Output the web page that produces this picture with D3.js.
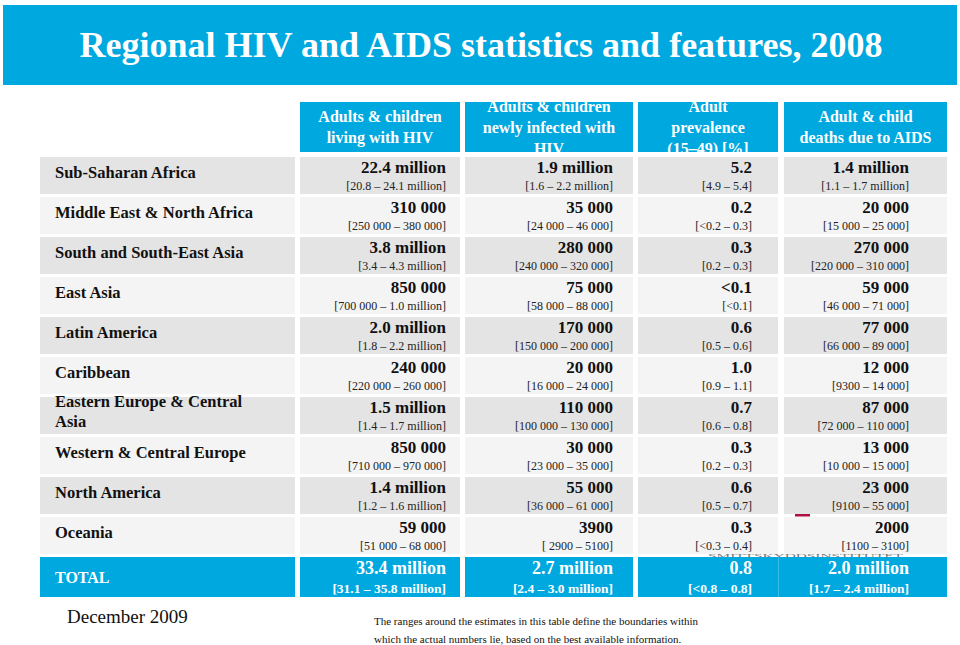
<!DOCTYPE html>
<html>
<head>
<meta charset="utf-8">
<script src="https://cdn.jsdelivr.net/npm/d3@7"></script>
<style>
html,body{margin:0;padding:0;background:#fff;}
svg{display:block;font-family:"Liberation Serif","Times New Roman",serif;}
</style>
</head>
<body>
<svg id="chart" width="960" height="645"></svg>
<script>
// ---------- DATA ----------
const title = "Regional HIV and AIDS statistics and features, 2008";
const regions = [
  "Sub-Saharan Africa",
  "Middle East & North Africa",
  "South and South-East Asia",
  "East Asia",
  "Latin America",
  "Caribbean",
  "Eastern Europe & Central\nAsia",
  "Western & Central Europe",
  "North America",
  "Oceania"
];
const totalLabel = "TOTAL";
const columnHeaders = [
  ["Adults & children", "living with HIV"],
  ["Adults & children", "newly infected with", "HIV"],
  ["Adult", "prevalence", "(15–49) [%]"],
  ["Adult & child", "deaths due to AIDS"]
];
const livingValues = ["22.4 million","310 000","3.8 million","850 000","2.0 million","240 000","1.5 million","850 000","1.4 million","59 000"];
const livingRanges = ["[20.8 – 24.1 million]","[250 000 – 380 000]","[3.4 – 4.3 million]","[700 000 – 1.0 million]","[1.8 – 2.2 million]","[220 000 – 260 000]","[1.4 – 1.7 million]","[710 000 – 970 000]","[1.2 – 1.6 million]","[51 000 – 68 000]"];
const newValues = ["1.9 million","35 000","280 000","75 000","170 000","20 000","110 000","30 000","55 000","3900"];
const newRanges = ["[1.6 – 2.2 million]","[24 000 – 46 000]","[240 000 – 320 000]","[58 000 – 88 000]","[150 000 – 200 000]","[16 000 – 24 000]","[100 000 – 130 000]","[23 000 – 35 000]","[36 000 – 61 000]","[ 2900 – 5100]"];
const prevValues = ["5.2","0.2","0.3","<0.1","0.6","1.0","0.7","0.3","0.6","0.3"];
const prevRanges = ["[4.9 – 5.4]","[<0.2 – 0.3]","[0.2 – 0.3]","[<0.1]","[0.5 – 0.6]","[0.9 – 1.1]","[0.6 – 0.8]","[0.2 – 0.3]","[0.5 – 0.7]","[<0.3 – 0.4]"];
const deathValues = ["1.4 million","20 000","270 000","59 000","77 000","12 000","87 000","13 000","23 000","2000"];
const deathRanges = ["[1.1 – 1.7 million]","[15 000 – 25 000]","[220 000 – 310 000]","[46 000 – 71 000]","[66 000 – 89 000]","[9300 – 14 000]","[72 000 – 110 000]","[10 000 – 15 000]","[9100 – 55 000]","[1100 – 3100]"];
const totalValues = ["33.4 million","2.7 million","0.8","2.0 million"];
const totalRanges = ["[31.1 – 35.8 million]","[2.4 – 3.0 million]","[<0.8 – 0.8]","[1.7 – 2.4 million]"];
const dateNote = "December 2009";
const footnote = ["The ranges around the estimates in this table define the boundaries within",
                  "which the actual numbers lie, based on the best available information."];
const watermark = "SMITTSKYDDSINSTITUTET";

// ---------- LAYOUT ----------
const BLUE = "#00a8e0";
const DARK = "#e4e4e4", LIGHT = "#f4f4f4";
const svg = d3.select("#chart");

const colEdges = [[40,295],[300,460],[465,633],[638,778],[784,947]];
const valueRight = [446, 613, 752, 909];
const seriesValues = [livingValues, newValues, prevValues, deathValues];
const seriesRanges = [livingRanges, newRanges, prevRanges, deathRanges];

const rowKeys = regions.concat([totalLabel]);
const y = d3.scaleBand().domain(rowKeys).range([157, 157 + 40*rowKeys.length - 3]).paddingInner(3/40).paddingOuter(0);
const bw = y.bandwidth();

// Title box
svg.append("rect").attr("x",3).attr("y",5).attr("width",954).attr("height",80).attr("fill",BLUE);
svg.append("text").attr("x",481).attr("y",57).attr("text-anchor","middle")
  .attr("fill","#fff").attr("font-weight","bold").attr("font-size",36)
  .attr("textLength",803).attr("lengthAdjust","spacingAndGlyphs").text(title);

// Column headers
const defs = svg.append("defs");
columnHeaders.forEach((lines,i)=>{
  const [x0,x1] = colEdges[i+1];
  defs.append("clipPath").attr("id","hc"+i).append("rect")
    .attr("x",x0).attr("y",101).attr("width",x1-x0).attr("height",51);
  svg.append("rect").attr("x",x0).attr("y",102).attr("width",x1-x0).attr("height",50).attr("fill",BLUE);
  const g = svg.append("g").attr("clip-path","url(#hc"+i+")");
  lines.forEach((ln,j)=>{
    g.append("text").attr("x",(x0+x1)/2).attr("y",132.5 + (j-(lines.length-1)/2)*21)
      .attr("text-anchor","middle").attr("fill","#fff").attr("font-weight","bold")
      .attr("font-size",16).text(ln);
  });
});

// Region rows
regions.forEach((r,i)=>{
  const top = y(r);
  const fill = i%2===0 ? DARK : LIGHT;
  colEdges.forEach(([x0,x1])=>{
    svg.append("rect").attr("x",x0).attr("y",top).attr("width",x1-x0).attr("height",bw).attr("fill",fill);
  });
  const parts = r.split("\n");
  parts.forEach((p,j)=>{
    svg.append("text").attr("x",55)
      .attr("y", parts.length===1 ? top+20.5 : top+9.5+j*20)
      .attr("font-weight","bold").attr("font-size",16.5).attr("fill","#111").text(p);
  });
  seriesValues.forEach((vals,c)=>{
    svg.append("text").attr("x",valueRight[c]).attr("y",top+16).attr("text-anchor","end")
      .attr("font-weight","bold").attr("font-size",17).attr("fill","#111").text(vals[i]);
    svg.append("text").attr("x",valueRight[c]).attr("y",top+32.5).attr("text-anchor","end")
      .attr("font-size",12).attr("fill","#222").text(seriesRanges[c][i]);
  });
});

// red mark and watermark fragment (mostly hidden behind the total row in the original)
svg.append("rect").attr("x",795).attr("y",514).attr("width",15).attr("height",2.5).attr("fill","#b01040");
svg.append("text").attr("x",708).attr("y",558).attr("font-size",6.5).attr("fill","#777")
  .attr("textLength",195).attr("lengthAdjust","spacingAndGlyphs").text(watermark);

// Total row
const tTop = y(totalLabel);
const tH = bw + 3;
svg.append("rect").attr("x",40).attr("y",tTop).attr("width",255).attr("height",tH).attr("fill",BLUE);
svg.append("rect").attr("x",300).attr("y",tTop).attr("width",160).attr("height",tH).attr("fill",BLUE);
svg.append("rect").attr("x",465).attr("y",tTop).attr("width",168).attr("height",tH).attr("fill",BLUE);
svg.append("rect").attr("x",638).attr("y",tTop).attr("width",309).attr("height",tH).attr("fill",BLUE);
svg.append("line").attr("x1",778.5).attr("x2",778.5).attr("y1",tTop).attr("y2",tTop+tH)
  .attr("stroke","#3bbbe8").attr("stroke-width",1);
svg.append("text").attr("x",55).attr("y",tTop+26).attr("font-weight","bold").attr("font-size",16)
  .attr("fill","#fff").text(totalLabel);
totalValues.forEach((v,c)=>{
  svg.append("text").attr("x",valueRight[c]).attr("y",tTop+17).attr("text-anchor","end")
    .attr("font-weight","bold").attr("font-size",18).attr("fill","#fff").text(v);
  svg.append("text").attr("x",valueRight[c]).attr("y",tTop+36).attr("text-anchor","end")
    .attr("font-weight","bold").attr("font-size",13.5).attr("fill","#fff").text(totalRanges[c]);
});

// Notes
svg.append("text").attr("x",67).attr("y",623).attr("font-size",19).attr("fill","#111").text(dateNote);
footnote.forEach((t,i)=>{
  svg.append("text").attr("x",374).attr("y",625+i*18).attr("font-size",11).attr("fill","#111").text(t);
});
</script>
</body>
</html>
